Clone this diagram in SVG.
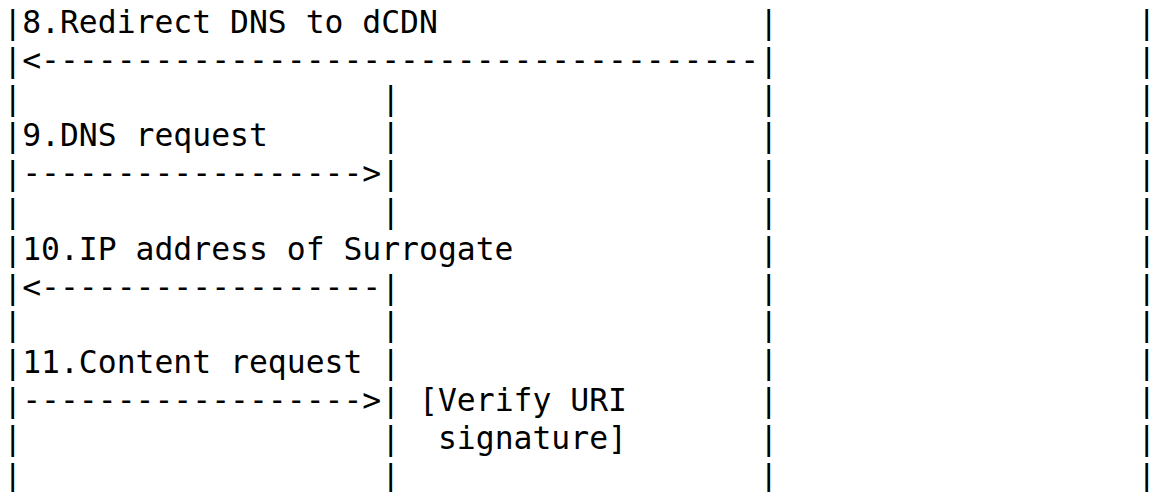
<svg xmlns="http://www.w3.org/2000/svg" width="1154" height="492" viewBox="0 0 1154 492">
<style>
text{font-family:"DejaVu Sans Mono","Liberation Mono",monospace;font-size:31.4px;fill:#000;white-space:pre}
</style>
<rect width="1154" height="492" fill="#fff"/>
<g id="lifelines">
<text x="759.25" y="33">|</text><text x="1137.25" y="33">|</text>
<text x="759.25" y="70.8">|</text><text x="1137.25" y="70.8">|</text>
<text x="3.25" y="108.6">|</text><text x="381.25" y="108.6">|</text><text x="759.25" y="108.6">|</text><text x="1137.25" y="108.6">|</text>
<text x="381.25" y="146.4">|</text><text x="759.25" y="146.4">|</text><text x="1137.25" y="146.4">|</text>
<text x="381.25" y="184.2">|</text><text x="759.25" y="184.2">|</text><text x="1137.25" y="184.2">|</text>
<text x="3.25" y="222">|</text><text x="381.25" y="222">|</text><text x="759.25" y="222">|</text><text x="1137.25" y="222">|</text>
<text x="759.25" y="259.8">|</text><text x="1137.25" y="259.8">|</text>
<text x="381.25" y="297.6">|</text><text x="759.25" y="297.6">|</text><text x="1137.25" y="297.6">|</text>
<text x="3.25" y="335.4">|</text><text x="381.25" y="335.4">|</text><text x="759.25" y="335.4">|</text><text x="1137.25" y="335.4">|</text>
<text x="381.25" y="373.2">|</text><text x="759.25" y="373.2">|</text><text x="1137.25" y="373.2">|</text>
<text x="381.25" y="411">|</text><text x="759.25" y="411">|</text><text x="1137.25" y="411">|</text>
<text x="3.25" y="448.8">|</text><text x="381.25" y="448.8">|</text><text x="759.25" y="448.8">|</text><text x="1137.25" y="448.8">|</text>
<text x="3.25" y="486.6">|</text><text x="381.25" y="486.6">|</text><text x="759.25" y="486.6">|</text><text x="1137.25" y="486.6">|</text>
</g>
<g id="msg8">
<text x="3.25" y="33">|8.Redirect DNS to dCDN</text>
<text x="3.25" y="70.8">|&lt;--------------------------------------</text>
</g>
<g id="msg9">
<text x="3.25" y="146.4">|9.DNS request</text>
<text x="3.25" y="184.2">|------------------&gt;</text>
</g>
<g id="msg10">
<text x="3.25" y="259.8">|10.IP address of Surrogate</text>
<text x="3.25" y="297.6">|&lt;------------------</text>
</g>
<g id="msg11">
<text x="3.25" y="373.2">|11.Content request</text>
<text x="3.25" y="411">|------------------&gt;</text>
</g>
<g id="verify">
<text x="419.05" y="411">[Verify URI</text>
<text x="437.95" y="448.8">signature]</text>
</g>
</svg>
